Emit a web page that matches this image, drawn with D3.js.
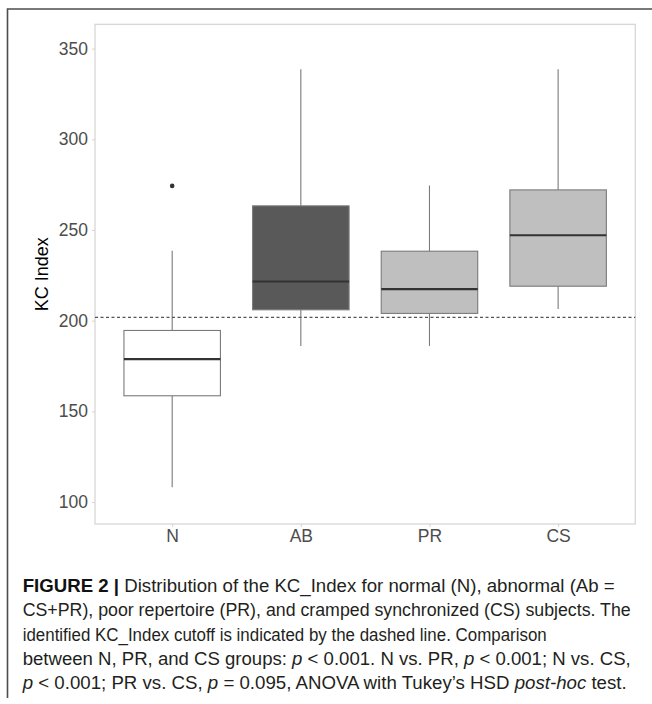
<!DOCTYPE html>
<html><head><meta charset="utf-8">
<script src="https://cdn.jsdelivr.net/npm/d3@7"></script>
<style>body{margin:0;background:#fff}svg{display:block}</style>
</head><body>
<script>
const categories = ["N","AB","PR","CS"];
const whiskerLow  = [108.1, 186.1, 186.1, 206.5];
const q1          = [158.6, 206.0, 204.0, 219.0];
const median      = [178.8, 221.6, 217.4, 247.1];
const q3          = [194.6, 263.3, 238.3, 272.1];
const whiskerHigh = [238.5, 338.6, 274.5, 338.6];
const fills       = ["#ffffff","#595959","#bfbfbf","#bfbfbf"];
const outliers    = [{cat:"N", value:274.3}];
const cutoff = 201.8;
const yTicks = [100,150,200,250,300,350];
const yTitle = "KC Index";
const captionLines = [
  [{t:"FIGURE 2 | ",b:true},{t:"Distribution of the KC_Index for normal (N), abnormal (Ab ="}],
  [{t:"CS+PR), poor repertoire (PR), and cramped synchronized (CS) subjects. The"}],
  [{t:"identified KC_Index cutoff is indicated by the dashed line. Comparison"}],
  [{t:"between N, PR, and CS groups: "},{t:"p",i:true},{t:" < 0.001. N vs. PR, "},{t:"p",i:true},{t:" < 0.001; N vs. CS,"}],
  [{t:"p",i:true},{t:" < 0.001; PR vs. CS, "},{t:"p",i:true},{t:" = 0.095, ANOVA with Tukey’s HSD "},{t:"post-hoc",i:true},{t:" test."}]
];
const captionWidths = [592, 608, 524, 608, 604];

const W = 652, H = 704;
const panel = {left:95, right:635.3, top:24.3, bottom:524};
const svg = d3.select("body").append("svg").attr("width",W).attr("height",H);

// outer frame
svg.append("path").attr("d",`M7.5,698 L7.5,9 L652,9`).attr("fill","none").attr("stroke","#4d4d4d").attr("stroke-width",1.6);

const y = d3.scaleLinear().domain([87.9, 363.4]).range([panel.bottom, panel.top]);
// ggplot-like discrete expansion: 0.6 units each side
const unit = (panel.right - panel.left)/(categories.length + 0.2);
const x = d3.scalePoint().domain(categories).range([panel.left + 0.6*unit, panel.right - 0.6*unit]);
const boxW = unit*0.75;

// panel border
svg.append("rect").attr("x",panel.left).attr("y",panel.top).attr("width",panel.right-panel.left).attr("height",panel.bottom-panel.top)
  .attr("fill","#fff").attr("stroke","#d4d4d4").attr("stroke-width",1.2);

const axisFont = "'Liberation Sans', Arial, sans-serif";
// y axis
const gy = svg.append("g").attr("transform",`translate(${panel.left},0)`).call(d3.axisLeft(y).tickValues(yTicks).tickSize(3).tickPadding(4));
gy.select(".domain").remove();
gy.selectAll(".tick line").attr("stroke","#d4d4d4");
gy.selectAll(".tick text").attr("fill","#4d4d4d").attr("font-family",axisFont).attr("font-size",17.5);

// x axis
const gx = svg.append("g").attr("transform",`translate(0,${panel.bottom})`).call(d3.axisBottom(x).tickSize(3).tickPadding(3));
gx.select(".domain").remove();
gx.selectAll(".tick line").attr("stroke","#d4d4d4");
gx.selectAll(".tick text").attr("fill","#4d4d4d").attr("font-family",axisFont).attr("font-size",17.5);

// y title
svg.append("text").attr("transform",`translate(48,${(panel.top+panel.bottom)/2}) rotate(-90)`)
  .attr("text-anchor","middle").attr("font-family",axisFont).attr("font-size",18).attr("fill","#000").text(yTitle);

// boxes
const g = svg.append("g");
categories.forEach((c,i)=>{
  const xc = x(c);
  g.append("line").attr("x1",xc).attr("x2",xc).attr("y1",y(whiskerHigh[i])).attr("y2",y(q3[i])).attr("stroke","#7a7a7a").attr("stroke-width",1.1);
  g.append("line").attr("x1",xc).attr("x2",xc).attr("y1",y(q1[i])).attr("y2",y(whiskerLow[i])).attr("stroke","#7a7a7a").attr("stroke-width",1.1);
  g.append("rect").attr("x",xc-boxW/2).attr("width",boxW).attr("y",y(q3[i])).attr("height",y(q1[i])-y(q3[i]))
    .attr("fill",fills[i]).attr("stroke","#7a7a7a").attr("stroke-width",1.1);
  g.append("line").attr("x1",xc-boxW/2).attr("x2",xc+boxW/2).attr("y1",y(median[i])).attr("y2",y(median[i])).attr("stroke","#333").attr("stroke-width",2.2);
});
outliers.forEach(o=>{
  g.append("circle").attr("cx",x(o.cat)).attr("cy",y(o.value)).attr("r",2.3).attr("fill","#333");
});

// cutoff line
svg.append("line").attr("x1",panel.left).attr("x2",panel.right).attr("y1",y(cutoff)).attr("y2",y(cutoff))
  .attr("stroke","#555").attr("stroke-width",1.1).attr("stroke-dasharray","3,2.5");

// caption
const capTop = 591.7, capStep = 24.4;
captionLines.forEach((segs,li)=>{
  const t = svg.append("text").attr("x",22.7).attr("y",capTop + li*capStep)
    .attr("font-family","'Liberation Sans Narrow', 'Liberation Sans', Arial, sans-serif").attr("font-size",17.5).attr("fill","#231f20")
    .attr("textLength",captionWidths[li]).attr("lengthAdjust","spacingAndGlyphs");
  segs.forEach(s=>{
    const ts = t.append("tspan").text(s.t);
    if(s.b) ts.attr("font-weight","bold").attr("fill","#111");
    if(s.i) ts.attr("font-style","italic");
  });
});
</script>
</body></html>
